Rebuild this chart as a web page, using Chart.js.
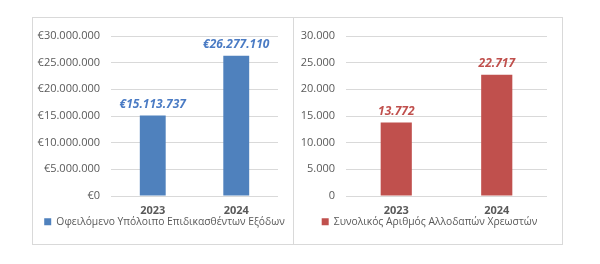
<!DOCTYPE html>
<html><head><meta charset="utf-8">
<script src="https://cdn.jsdelivr.net/npm/chart.js@4/dist/chart.umd.min.js"></script>
<style>
body{margin:0;background:#fff;width:600px;height:264px;position:relative;overflow:hidden;font-family:"Open Sans",sans-serif}
.panel{position:absolute;border:1px solid #d9d9d9;box-sizing:border-box}
canvas{position:absolute}
</style></head><body>
<div class="panel" style="left:32px;top:17px;width:262px;height:228px"></div>
<div class="panel" style="left:293px;top:17px;width:270px;height:228px"></div>
<canvas id="c1" style="left:33px;top:18px" width="259" height="226"></canvas>
<canvas id="c2" style="left:294px;top:18px" width="268" height="226"></canvas>
<script>
const categories = ['2023', '2024'];
const amountValues = [15113737, 26277110];
const debtorValues = [13772, 22717];
const amountLabel = 'Οφειλόμενο Υπόλοιπο Επιδικασθέντων Εξόδων';
const debtorLabel = 'Συνολικός Αριθμός Αλλοδαπών Χρεωστών';
const amountTicks = [0, 5000000, 10000000, 15000000, 20000000, 25000000, 30000000];
const debtorTicks = [0, 5000, 10000, 15000, 20000, 25000, 30000];

function fmt(n){ return String(Math.round(n)).replace(/\B(?=(\d{3})+(?!\d))/g, '.'); }

const valueLabels = {
  id: 'valueLabels',
  afterLayout(chart, args, opts){
    if (chart.legend) { chart.legend.left += opts.legendShift; chart.legend.right += opts.legendShift; }
  },
  afterDatasetsDraw(chart, args, opts){
    const ctx = chart.ctx;
    const meta = chart.getDatasetMeta(0);
    ctx.save();
    ctx.font = 'italic bold 12px "Open Sans"';
    ctx.fillStyle = opts.color;
    ctx.textAlign = 'center';
    ctx.textBaseline = 'bottom';
    meta.data.forEach((bar, i) => {
      const v = chart.data.datasets[0].data[i];
      ctx.fillText(opts.prefix + fmt(v), bar.x, bar.y - opts.gap);
    });
    ctx.restore();
  }
};

function makeChart(id, values, label, color, labelColor, ticks, prefix, yWidth, padRight){
  return new Chart(document.getElementById(id), {
    type: 'bar',
    data: { labels: categories, datasets: [{ label: label, data: values, backgroundColor: color, categoryPercentage: 1, barPercentage: 0.31 }] },
    options: {
      responsive: false, animation: false,
      layout: { padding: { top: 18, right: padRight, bottom: 7, left: 0 } },
      plugins: {
        legend: { position: 'bottom', labels: { boxWidth: 7, boxHeight: 7, padding: 1, color: '#595959', font: { family: 'Open Sans', size: 10.3 } } },
        tooltip: { enabled: false },
        valueLabels: { color: labelColor, prefix: prefix, gap: 5, legendShift: 9 }
      },
      scales: {
        x: { grid: { display: false, drawTicks: false }, border: { display: false },
             ticks: { color: '#595959', padding: 8.4, font: { family: 'Open Sans', size: 11, weight: 'bold' } },
             afterFit(s){ s.height = 19.7; } },
        y: { min: 0, max: ticks[ticks.length-1], grid: { color: '#d9d9d9', drawTicks: false }, border: { display: false },
             afterBuildTicks(s){ s.ticks = ticks.map(v => ({ value: v })); },
             ticks: { color: '#595959', padding: 11, font: { family: 'Open Sans', size: 11 }, callback: v => prefix + fmt(v) },
             afterFit(s){ s.width = yWidth; } }
      }
    },
    plugins: [valueLabels]
  });
}

makeChart('c1', amountValues, amountLabel, '#4f81bd', '#4a7bc4', amountTicks, '€', 78, 14);
makeChart('c2', debtorValues, debtorLabel, '#c0504d', '#c0504d', debtorTicks, '', 52, 15);
</script>
</body></html>
